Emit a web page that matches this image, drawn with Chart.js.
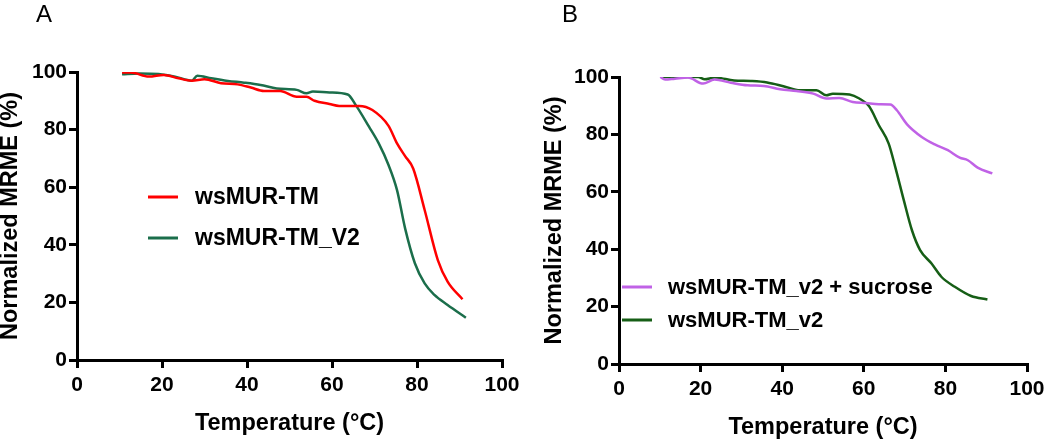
<!DOCTYPE html>
<html>
<head>
<meta charset="utf-8">
<script src="https://cdn.jsdelivr.net/npm/chart.js@4.4.1/dist/chart.umd.min.js"></script>
<style>
  body { margin: 0; background: #fff; }
  #wrap { position: relative; width: 1050px; height: 441px; }
  .panel { position: absolute; top: 0; }
  .tag { position: absolute; top: 0; font: 24px "Liberation Sans", Arial, sans-serif; color: #000; }
</style>
</head>
<body>
<div id="wrap">
  <canvas id="chartA" class="panel" style="left:0" width="525" height="441"></canvas>
  <canvas id="chartB" class="panel" style="left:525px" width="525" height="441"></canvas>
  <div class="tag" style="left:36px">A</div>
  <div class="tag" style="left:562px">B</div>
</div>
<script>
// panel A
const tempTM = [10.6, 12.7, 16.9, 20.4, 23.9, 27, 30, 33.9, 37.8, 40.9, 44, 47.8, 51.7, 54, 55.9, 59.4, 61.7, 66.4, 69.5, 73.3, 75.3, 77.2, 79.1, 81.8, 84.9, 87.2, 90.7];
const valsTM = [99.8, 99.8, 98.4, 99, 97.8, 97, 97.5, 96.1, 95.7, 94.6, 93.4, 93.4, 91.4, 91.4, 90, 88.9, 88.2, 88.2, 86.8, 81.3, 75.2, 70.8, 66.5, 52.1, 34.7, 27.2, 21.1];

const tempTMV2 = [10.6, 14.6, 19.2, 23.1, 27, 28.3, 31.6, 35.5, 39.3, 43.2, 47, 51.7, 54, 55.5, 59.4, 63.7, 65.6, 68.7, 71, 73.3, 75.3, 77.2, 79.5, 81.8, 84.1, 87.2, 91.5];
const valsTMV2 = [99.2, 99.5, 99.3, 98.4, 97, 98.7, 97.8, 96.9, 96.3, 95.5, 94.3, 93.8, 92.6, 93.2, 92.9, 92.2, 88.5, 81, 75.2, 67.7, 59, 45.7, 33.6, 26.6, 22.6, 19.1, 14.7];

// panel B
const tempSuc = [10.1, 11.3, 13.7, 16.9, 20.6, 23.4, 27.4, 31.5, 35.5, 39.5, 43.5, 47.6, 50.8, 54, 57.3, 60.5, 63.7, 66.5, 68.1, 70.6, 74.2, 77.4, 80.6, 83.5, 85.5, 87.9, 91.5];
const valsSuc = [100, 99.1, 99.4, 99.8, 97.7, 99.1, 98, 97.1, 96.9, 95.7, 95.1, 94.2, 92.5, 92.7, 91.3, 90.9, 90.5, 90.4, 88.4, 83.5, 79.1, 76.5, 74.5, 71.9, 71, 68.4, 66.4];

const tempV2 = [10.5, 13.7, 19.4, 21, 23.4, 28.2, 32.3, 36.3, 40.3, 44.4, 48.4, 50.8, 52.4, 56.5, 58.9, 61.3, 63.7, 66.1, 67.7, 69.8, 71.8, 73.8, 76.6, 79, 82.3, 86.3, 90.3];
const valsV2 = [100, 100, 100, 99.2, 99.8, 98.8, 98.6, 98.1, 96.8, 95.4, 95.4, 93.6, 94.2, 93.9, 92.5, 89.8, 83.2, 76.8, 68.7, 57.1, 46.6, 39.7, 35, 30.4, 26.9, 23.7, 22.5];

const xTitle = "Temperature (°C)";
const yTitle = "Normalized MRME (%)";

const font = "'Liberation Sans', Arial, sans-serif";

const toPoints = (xs, ys) => xs.map((x, i) => ({ x: x, y: ys[i] }));

// draws the legend lines + labels at a fixed spot
const keyPlugin = {
  id: "sideKey",
  afterDraw(chart) {
    const o = chart.options.plugins.sideKey;
    const ctx = chart.ctx;
    ctx.save();
    ctx.font = "bold " + o.size + "px " + font;
    ctx.textBaseline = "middle";
    ctx.fillStyle = "#000";
    chart.data.datasets.forEach((ds, i) => {
      const y = o.y + i * o.gap;
      ctx.strokeStyle = ds.borderColor;
      ctx.lineWidth = 3;
      ctx.beginPath();
      ctx.moveTo(o.x, y);
      ctx.lineTo(o.x + 30, y);
      ctx.stroke();
      ctx.fillText(ds.label, o.textX, y + 1);
    });
    ctx.restore();
  },
};

function makeChart(id, datasets, box, key) {
  return new Chart(document.getElementById(id), {
    type: "line",
    data: { datasets: datasets },
    plugins: [keyPlugin],
    options: {
      responsive: false,
      animation: false,
      devicePixelRatio: 1,
      layout: { padding: { left: 0, right: box.right, top: box.top, bottom: 0 } },
      elements: {
        point: { radius: 0 },
        line: { borderWidth: 2.5, cubicInterpolationMode: "monotone" },
      },
      plugins: {
        legend: { display: false },
        tooltip: { enabled: false },
        sideKey: key,
      },
      scales: {
        x: {
          type: "linear",
          min: 0,
          max: 100,
          afterFit: (s) => { s.height = box.xh; s.paddingLeft = 0; s.paddingRight = 0; },
          ticks: { stepSize: 20, color: "#000", padding: 5, font: { family: font, size: 21, weight: "bold" } },
          grid: { drawOnChartArea: false, color: "#000", lineWidth: 3, tickLength: 8 },
          border: { color: "#000", width: 3 },
          title: { display: true, text: xTitle, color: "#000", padding: { bottom: box.xtPad }, font: { family: font, size: 23.5, weight: "bold", lineHeight: 1 } },
        },
        y: {
          min: 0,
          max: 100,
          afterFit: (s) => { s.width = box.yw; s.paddingTop = 0; s.paddingBottom = 0; },
          ticks: { stepSize: 20, color: "#000", padding: 2, font: { family: font, size: 21, weight: "bold" } },
          grid: { drawOnChartArea: false, color: "#000", lineWidth: 3, tickLength: 8 },
          border: { color: "#000", width: 3 },
          title: { display: true, text: yTitle, color: "#000", padding: { top: box.ytPad }, font: { family: font, size: 23.5, weight: "bold", lineHeight: 1 } },
        },
      },
    },
  });
}

makeChart("chartA", [
  { label: "wsMUR-TM", data: toPoints(tempTM, valsTM), borderColor: "#ff0000" },
  { label: "wsMUR-TM_V2", data: toPoints(tempTMV2, valsTMV2), borderColor: "#1b6e4b" },
], { right: 23, top: 72, xh: 81, yw: 77, xtPad: 6, ytPad: -1 },
   { x: 148, textX: 195, y: 197, gap: 41, size: 23 });

makeChart("chartB", [
  { label: "wsMUR-TM_v2 + sucrose", data: toPoints(tempSuc, valsSuc), borderColor: "#c062e6" },
  { label: "wsMUR-TM_v2", data: toPoints(tempV2, valsV2), borderColor: "#165e16" },
], { right: 23, top: 77, xh: 77, yw: 94, xtPad: 2, ytPad: 18 },
   { x: 97, textX: 143, y: 287, gap: 33, size: 22 });
</script>
</body>
</html>
